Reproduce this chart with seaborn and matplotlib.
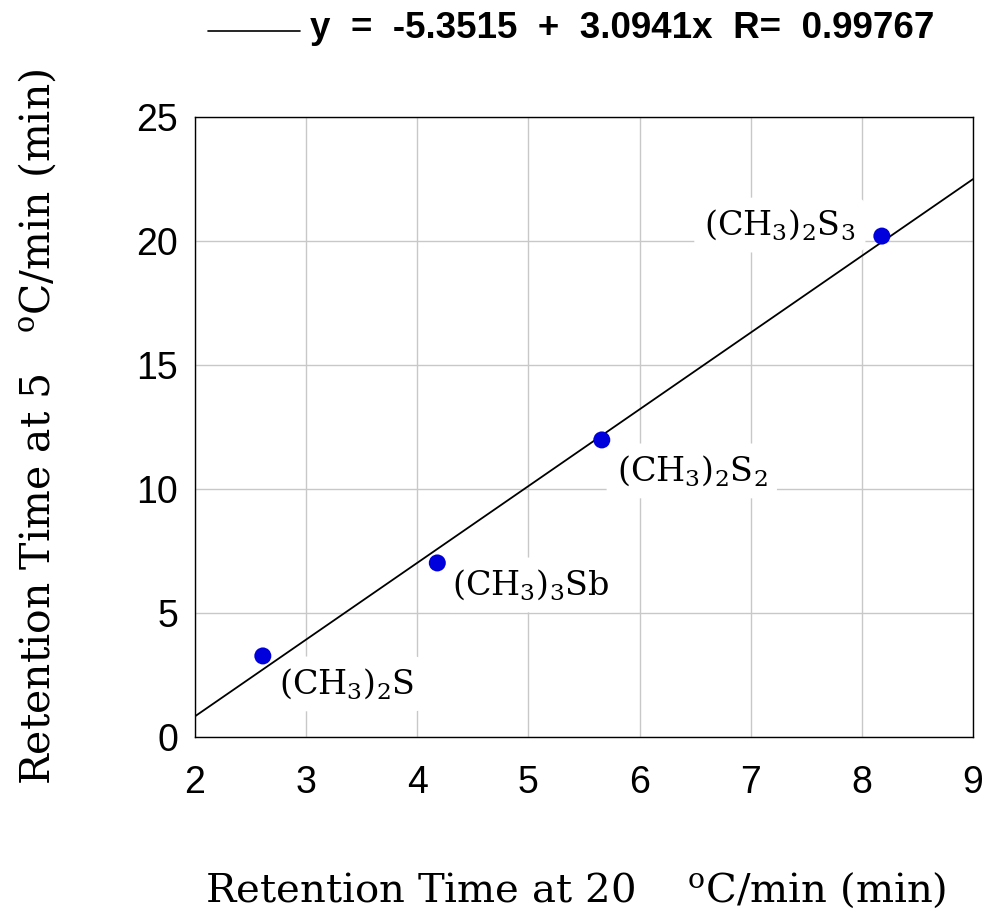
import matplotlib
matplotlib.use("Agg")
import matplotlib.pyplot as plt
import seaborn as sns
import numpy as np
import pandas as pd
from matplotlib import font_manager

# data
compounds = ["(CH$_3$)$_2$S", "(CH$_3$)$_3$Sb", "(CH$_3$)$_2$S$_2$", "(CH$_3$)$_2$S$_3$"]
rt_20 = [2.61, 4.18, 5.66, 8.18]
rt_5 = [3.27, 7.02, 11.98, 20.2]
intercept = -5.3515
slope = 3.0941
r_value = 0.99767
x_ticks = [2, 3, 4, 5, 6, 7, 8, 9]
y_ticks = [0, 5, 10, 15, 20, 25]

sns.set_theme(style="white")
plt.rcParams['mathtext.default'] = 'regular'
plt.rcParams['text.color'] = 'black'
plt.rcParams['xtick.color'] = 'black'
plt.rcParams['ytick.color'] = 'black'
plt.rcParams['axes.labelcolor'] = 'black'

names = {f.name for f in font_manager.fontManager.ttflist}
narrow = "Liberation Sans Narrow" if "Liberation Sans Narrow" in names else "Liberation Sans"
serif = "DejaVu Serif"

fig = plt.figure(figsize=(9.87, 9.15), dpi=100)
ax = fig.add_axes([0.1976, 0.1945, 0.7882, 0.6776])

df = pd.DataFrame({"x": rt_20, "y": rt_5})
fit_x = np.array([x_ticks[0], x_ticks[-1]], dtype=float)
fit_df = pd.DataFrame({"x": fit_x, "y": intercept + slope * fit_x})

sns.lineplot(data=fit_df, x="x", y="y", ax=ax, color="black", lw=1.3, zorder=6)
sns.scatterplot(data=df, x="x", y="y", ax=ax, color="#0000DD", s=150,
                edgecolor="none", zorder=7)

ax.set_xlim(2, 9)
ax.set_ylim(0, 25)
ax.set_xticks(x_ticks)
ax.set_yticks(y_ticks)
ax.grid(True, color="#c8c8c8", lw=1.0)
ax.set_axisbelow(True)
for s in ax.spines.values():
    s.set_color("black")
    s.set_linewidth(1.0)
    s.set_zorder(8)
ax.tick_params(direction="in", length=5, width=1, color="black")
ax.tick_params(axis="x", pad=20)
ax.tick_params(axis="y", pad=12)
for lab in ax.get_xticklabels():
    lab.set_fontfamily(narrow)
    lab.set_fontsize(27)
    lab.set_color("black")
for lab in ax.get_yticklabels():
    lab.set_fontfamily("Liberation Sans")
    lab.set_fontsize(27)
    lab.set_color("black")

ax.set_xlabel("Retention Time at 20    $^{o}$C/min (min)", fontfamily=serif,
              fontsize=29, labelpad=50, color="black")
ax.xaxis.set_label_coords(0.49, -0.215)
ax.set_ylabel("Retention Time at 5   $^{o}$C/min (min)", fontfamily=serif,
              fontsize=29.5, labelpad=56, color="black")

# labels (offsets in pixels from each point)
offsets = [(84, -28), (93, -22), (90, -31), (-102, 11)]
for name, x, y, off in zip(compounds, rt_20, rt_5, offsets):
    ax.annotate(name, (x, y), xytext=off, textcoords="offset pixels",
                ha="center", va="center", fontfamily=serif, fontsize=24,
                color="black", zorder=5,
                bbox=dict(boxstyle="round,pad=0.3", fc="white", ec="none"))

# legend-style header
fig.add_artist(plt.Line2D([208/987, 300/987], [1-31/915, 1-31/915],
                          color="black", lw=1.2, transform=fig.transFigure))
fig.text(310/987, 1-29/915,
         f"y  =  {intercept}  +  {slope}x  R=  {r_value}",
         fontfamily=narrow, fontweight="bold", fontsize=26.5,
         ha="left", va="center", color="black")

fig.savefig("out.png", dpi=100, facecolor="white")
